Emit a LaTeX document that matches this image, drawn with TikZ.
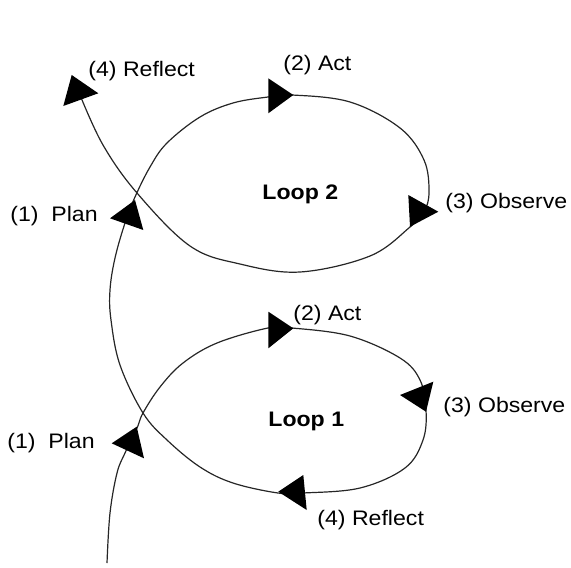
\documentclass[tikz,border=0pt]{standalone}
\usepackage{fontspec}
\setmainfont{Liberation Sans}[FakeStretch=1.1]
\usepackage{tikz}
\tikzset{
   cycle line/.style={draw=black!85, line width=0.6pt},
   tipfill/.style={fill=black},
   stage/.style={anchor=base west, inner sep=0pt,
      font=\fontsize{10.5}{12}\selectfont},
   loopname/.style={stage, font=\fontsize{10.5}{12}\selectfont\bfseries},
    }

\begin{document}
\begin{tikzpicture}[x=0.5pt, y=-0.5pt]
            \useasboundingbox (0,0) rectangle (571,567);
            % one spiral line, bottom to top
            \draw[cycle line] plot[smooth, tension=0.6] coordinates {
               (107,563) (110,513) (117,473) (125,453) (137,428) (143,413)
               (160,387) (183,363) (217,343) (268,328) (292,328) (350,336)
               (400,358) (420,380) (426,410) (423,440) (405,468) (360,488)
               (303,493) (278,493) (233,483) (200,467) (167,440) (143,413)
               (120,365) (111,320) (110,290) (115,258) (125,223) (135,197)
               (150,167) (167,143) (200,117) (233,103) (268,97) (292,95)
               (350,102) (400,128) (424,160) (429,192) (424,212) (410,227)
               (370,256) (300,272) (240,264) (190,246) (137,193) (103,145)
               (80,95)};
            % loop 1 heads
            \fill[tipfill] (111.7,443.3) -- (136.7,426.7) -- (144,458.3) -- cycle;
            \fill[tipfill] (268.3,311.7) -- (293.3,328.3) -- (268.3,348.3) -- cycle;
            \fill[tipfill] (433.3,381.7) -- (426,411.7) -- (400,395) -- cycle;
            \fill[tipfill] (278.3,491.7) -- (303.3,475) -- (306.7,510) -- cycle;
            % loop 2 heads
            \fill[tipfill] (110,218.3) -- (135,200) -- (143.3,230) -- cycle;
            \fill[tipfill] (268.3,78.3) -- (293.3,95) -- (268.3,113.3) -- cycle;
            \fill[tipfill] (408.3,195) -- (438.3,211.7) -- (410,226.7) -- cycle;
            \fill[tipfill] (71.7,75) -- (98.3,93.3) -- (63.3,106) -- cycle;
            % loop 1 labels
            \node[stage] (plan1) at (7,448) {(1)~~Plan};
            \node[stage] (act1) at (293,320) {(2) Act};
            \node[stage] (obs1) at (443,412) {(3) Observe};
            \node[stage] (refl1) at (317,525) {(4) Reflect};
            \node[loopname] (loop1) at (268,426) {Loop 1};
            % loop 2 labels
            \node[stage] (plan2) at (10,221) {(1)~~Plan};
            \node[stage] (act2) at (283,70) {(2) Act};
            \node[stage] (obs2) at (445,208) {(3) Observe};
            \node[stage] (refl2) at (88,76) {(4) Reflect};
            \node[loopname] (loop2) at (262,199) {Loop 2};
        \end{tikzpicture}
\end{document}
